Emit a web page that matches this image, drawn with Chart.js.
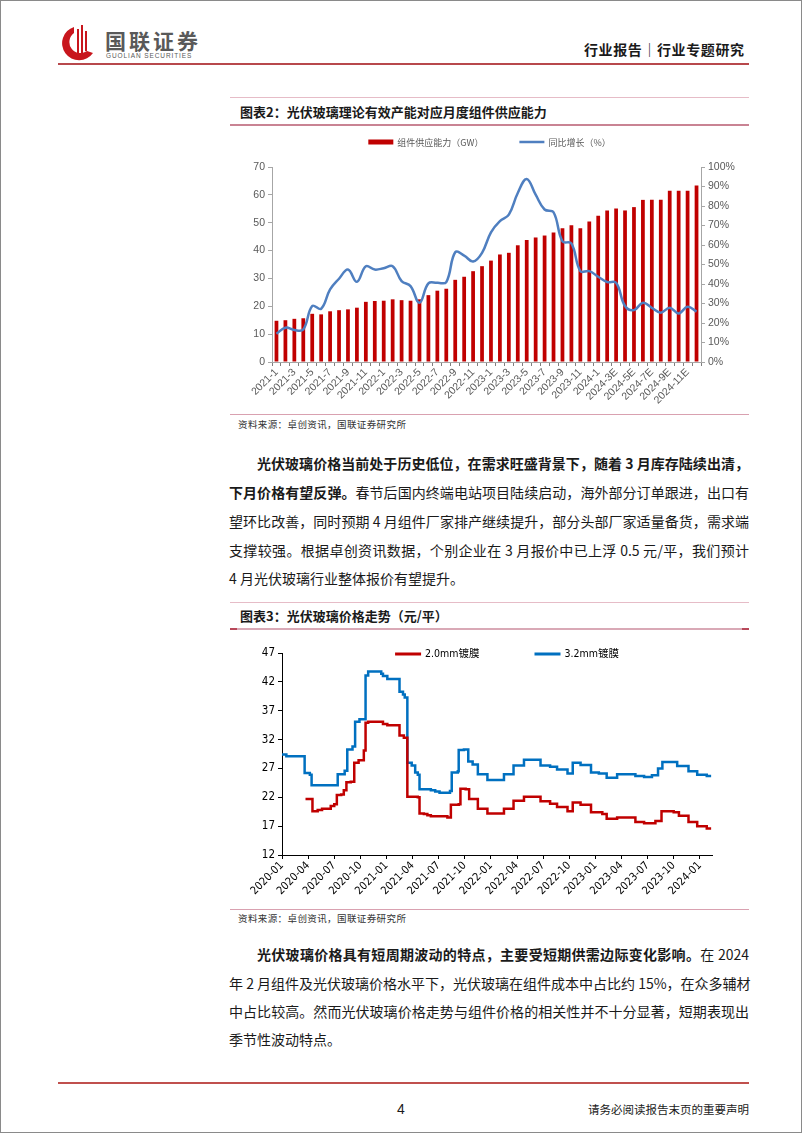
<!DOCTYPE html>
<html>
<head>
<meta charset="utf-8">
<script src="https://cdn.jsdelivr.net/npm/chart.js@4.4.1/dist/chart.umd.min.js"></script>
<style>
html,body{margin:0;padding:0;background:#fff;}
#page{position:relative;width:802px;height:1133px;box-sizing:border-box;border:1px solid #8a8a8a;overflow:hidden;font-family:"Noto Sans CJK SC",sans-serif;color:#1a1a1a;}
.abs{position:absolute;}
.rule{position:absolute;left:229px;width:519px;}
.title{position:absolute;left:239px;font-size:13px;font-weight:bold;line-height:16px;white-space:nowrap;}
.src{position:absolute;left:237px;font-size:9.5px;line-height:12px;color:#333;letter-spacing:0.4px;white-space:nowrap;}
.txt{position:absolute;left:228px;width:520px;font-size:14px;line-height:20px;height:20px;white-space:nowrap;text-align:justify;text-align-last:justify;}
.txt.first{left:256px;width:492px;}
.txt.last{text-align-last:left;}
.txt b{font-weight:bold;}
</style>
</head>
<body>
<div id="page">
  <!-- header -->
  <svg class="abs" style="left:56px;top:22px" width="40" height="40" viewBox="0 0 40 40">
    <path d="M17 4 A17 17 0 1 0 36 30 L30 28 A11 11 0 1 1 17 10 Z" fill="#c8161d"/>
    <rect x="20" y="6" width="2" height="26" fill="#c8161d"/>
    <rect x="24" y="2" width="2" height="28" fill="#c8161d"/>
    <rect x="28" y="8" width="2" height="20" fill="#c8161d"/>
  </svg>
  <div class="abs" style="left:104px;top:27px;font-size:21px;font-weight:bold;letter-spacing:3px;color:#595959;line-height:24px;">国联证券</div>
  <div class="abs" style="left:105px;top:51px;font-size:6.5px;letter-spacing:0.9px;color:#595959;line-height:8px;font-family:'Liberation Sans',sans-serif;">GUOLIAN SECURITIES</div>
  <div class="abs" style="left:583px;top:39px;font-size:14px;font-weight:bold;line-height:18px;letter-spacing:0.6px;white-space:nowrap;">行业报告｜行业专题研究</div>
  <div class="abs" style="left:57px;top:62px;width:691px;height:2px;background:#b8484c;"></div>

  <!-- figure 2 -->
  <div class="rule" style="top:96px;height:1px;background:#e6bcc7;"></div>
  <div class="title" style="top:103px;">图表2：光伏玻璃理论有效产能对应月度组件供应能力</div>
  <div class="rule" style="top:123px;height:2px;background:#c98393;"></div>
  <canvas id="supplyChart" class="abs" style="left:230px;top:128px" width="518" height="276"></canvas>
  <div class="rule" style="top:413px;height:1px;background:#d9a1b0;"></div>
  <div class="src" style="top:417px;">资料来源：卓创资讯，国联证券研究所</div>

  <!-- paragraph 1 -->
  <div class="txt first" style="top:452px;"><b>光伏玻璃价格当前处于历史低位，在需求旺盛背景下，随着 3 月库存陆续出清，</b></div>
  <div class="txt" style="top:481px;"><b>下月价格有望反弹。</b>春节后国内终端电站项目陆续启动，海外部分订单跟进，出口有</div>
  <div class="txt" style="top:510px;">望环比改善，同时预期 4 月组件厂家排产继续提升，部分头部厂家适量备货，需求端</div>
  <div class="txt" style="top:539px;">支撑较强。根据卓创资讯数据，个别企业在 3 月报价中已上浮 0.5 元/平，我们预计</div>
  <div class="txt last" style="top:567px;">4 月光伏玻璃行业整体报价有望提升。</div>

  <!-- figure 3 -->
  <div class="rule" style="top:601px;height:1px;background:#e6bcc7;"></div>
  <div class="title" style="top:607px;">图表3：光伏玻璃价格走势（元/平）</div>
  <div class="rule" style="top:627px;height:2px;background:#d9a9b6;"></div>
  <div class="abs" style="left:229px;top:627px;width:7px;height:2px;background:#b8485a;"></div>
  <div class="abs" style="left:741px;top:627px;width:7px;height:2px;background:#b8485a;"></div>
  <canvas id="priceChart" class="abs" style="left:232px;top:636px" width="516" height="270"></canvas>
  <div class="rule" style="top:908px;height:1px;background:#d9a1b0;"></div>
  <div class="src" style="top:911px;">资料来源：卓创资讯，国联证券研究所</div>

  <!-- paragraph 2 -->
  <div class="txt first" style="top:943px;"><b>光伏玻璃价格具有短周期波动的特点，主要受短期供需边际变化影响。</b>在 2024</div>
  <div class="txt" style="top:972px;">年 2 月组件及光伏玻璃价格水平下，光伏玻璃在组件成本中占比约 15%，在众多辅材</div>
  <div class="txt" style="top:1000px;">中占比较高。然而光伏玻璃价格走势与组件价格的相关性并不十分显著，短期表现出</div>
  <div class="txt last" style="top:1028px;">季节性波动特点。</div>

  <!-- footer -->
  <div class="abs" style="left:57px;top:1081px;width:691px;height:2px;background:#c0504d;"></div>
  <div class="abs" style="left:396px;top:1099px;font-size:14px;line-height:18px;font-family:'Liberation Sans',sans-serif;">4</div>
  <div class="abs" style="left:585px;top:1100px;width:163px;font-size:11.5px;line-height:16px;text-align:right;white-space:nowrap;">请务必阅读报告末页的重要声明</div>
</div>

<script>
// 图表2 data
const monthLabels = ['2021-1','2021-2','2021-3','2021-4','2021-5','2021-6','2021-7','2021-8','2021-9','2021-10','2021-11','2021-12',
  '2022-1','2022-2','2022-3','2022-4','2022-5','2022-6','2022-7','2022-8','2022-9','2022-10','2022-11','2022-12',
  '2023-1','2023-2','2023-3','2023-4','2023-5','2023-6','2023-7','2023-8','2023-9','2023-10','2023-11','2023-12',
  '2024-1','2024-2','2024-3E','2024-4E','2024-5E','2024-6E','2024-7E','2024-8E','2024-9E','2024-10E','2024-11E','2024-12E'];
const supplyGW = [14.8,15.0,15.5,15.7,17.3,17.1,18.2,18.6,18.9,19.5,21.6,21.9,
  22.0,22.5,22.2,22.0,22.5,24.0,25.6,26.3,29.5,30.6,32.6,34.4,
  36.4,38.6,39.2,41.9,43.8,44.7,45.4,46.5,48.0,49.1,48.0,50.4,
  52.5,54.4,55.1,54.4,55.6,58.2,58.2,58.2,61.5,61.5,61.5,63.4];
const yoyGrowth = [14.5,17.6,16.4,16.7,28.7,27.3,37.2,42.7,47.4,41.1,49.1,47.4,
  48.1,49.1,41.5,38.9,30.4,40.3,40.6,41.0,56.3,54.6,51.5,56.0,
  66.5,72.2,75.6,86.7,93.9,85.8,78.2,76.8,61.9,60.8,46.6,46.6,
  43.7,41.0,40.6,28.7,26.6,30.4,27.8,25.3,27.8,24.9,28.3,25.8];

// 图表3 data: x = months since 2020-01, price holds until next point
const priceTickLabels = ['2020-01','2020-04','2020-07','2020-10','2021-01','2021-04','2021-07','2021-10','2022-01',
  '2022-04','2022-07','2022-10','2023-01','2023-04','2023-07','2023-10','2024-01'];
const glass20Month = [2.7,3.5,4.1,4.6,5.6,6.0,6.3,6.8,7.1,7.4,7.9,8.3,8.8,9.4,9.6,9.9,11.6,12.1,13.5,14.0,14.4,15.6,15.8,16.3,16.7,17.1,19.0,19.4,20.3,20.5,21.1,21.5,22.5,23.6,25.5,26.6,27.8,29.7,30.8,31.6,32.8,33.4,34.3,35.5,36.8,37.3,38.5,40.6,41.6,42.9,43.6,45.0,45.6,46.7,47.7,48.8,49.3];
const glass20Price = [21.7,19.6,19.8,20.0,20.5,20.8,22.4,22.5,23.2,24.6,24.7,28.0,28.4,30.1,34.9,35.1,34.7,34.5,32.7,32.3,22.1,22.0,19.2,19.1,18.9,18.7,18.5,20.7,20.8,23.5,23.4,21.7,20.0,19.2,20.0,21.4,22.1,21.3,20.9,20.3,19.6,21.1,20.7,19.4,19.1,18.3,18.5,17.7,17.5,17.9,19.6,19.4,18.8,17.7,17.0,16.6,16.6];
const glass32Month = [0.0,0.5,2.6,3.2,3.4,6.4,7.2,7.5,8.1,8.4,8.9,9.6,9.9,11.4,11.6,12.1,13.5,13.9,14.1,14.4,14.9,15.3,15.6,15.8,17.1,17.6,18.1,19.3,19.5,20.2,20.3,20.9,21.4,21.9,22.5,23.6,25.5,26.6,27.8,29.7,30.8,31.6,32.8,33.4,34.3,35.5,36.4,37.3,38.5,40.6,41.6,42.5,43.2,43.7,45.4,46.7,47.7,48.8,49.3];
const glass32Price = [29.4,29.1,26.2,25.9,24.1,26.0,26.6,30.3,30.8,35.1,35.5,43.1,43.8,43.4,43.0,42.5,40.3,39.8,39.3,28.0,27.5,26.3,25.9,23.4,23.2,23.0,22.8,23.1,26.3,26.5,30.2,30.3,28.2,27.7,26.0,25.0,26.0,27.5,28.5,27.5,27.3,26.8,26.1,28.0,27.6,26.3,26.1,25.4,26.0,25.7,25.5,25.8,27.0,28.1,27.4,26.5,25.9,25.7,25.7];

Chart.defaults.font.family = '"Liberation Sans", "Noto Sans CJK SC", sans-serif';
Chart.defaults.animation = false;

// draws a legend row at a fixed offset from the chart area top
const rowLegend = {
  id: 'rowLegend',
  afterDraw(chart, args, opts) {
    const ctx = chart.ctx, area = chart.chartArea;
    ctx.save();
    ctx.font = opts.font;
    const sets = opts.order.map(i => chart.data.datasets[i]);
    const widths = sets.map(d => opts.boxW + 4 + ctx.measureText(d.label).width);
    const total = widths.reduce((a, b) => a + b, 0) + opts.gap * (sets.length - 1);
    let x = (area.left + area.right) / 2 - total / 2 + opts.shift;
    const y = area.top + opts.dy;
    sets.forEach((d, k) => {
      const h = d.type === 'bar' ? opts.barH : opts.lineH;
      ctx.fillStyle = d.type === 'bar' ? d.backgroundColor : d.borderColor;
      ctx.fillRect(x, y - h / 2, opts.boxW, h);
      ctx.fillStyle = opts.color;
      ctx.textBaseline = 'middle';
      ctx.fillText(d.label, x + opts.boxW + 4, y + 0.5);
      x += widths[k] + opts.gap;
    });
    ctx.restore();
  }
};

new Chart(document.getElementById('supplyChart'), {
  data: {
    labels: monthLabels,
    datasets: [
      { type: 'line', label: '同比增长（%）', data: yoyGrowth, yAxisID: 'y1',
        borderColor: '#4f7fc0', borderWidth: 2.5, pointRadius: 0, tension: 0.4 },
      { type: 'bar', label: '组件供应能力（GW）', data: supplyGW, yAxisID: 'y',
        backgroundColor: '#c00000', barPercentage: 0.42, categoryPercentage: 1 }
    ]
  },
  options: {
    responsive: false,
    layout: { padding: { top: 38 } },
    plugins: {
      legend: { display: false },
      tooltip: { enabled: false },
      rowLegend: { order: [1, 0], font: '9px "Noto Sans CJK SC"', color: '#595959',
        boxW: 25, barH: 5, lineH: 2.5, gap: 36, shift: 3, dy: -25 }
    },
    scales: {
      x: {
        grid: { drawOnChartArea: false, tickLength: 4, color: '#7f7f7f' },
        border: { color: '#a6a6a6' },
        ticks: { autoSkip: false, maxRotation: 45, minRotation: 45, color: '#595959', font: { size: 10.5 }, padding: 0,
          callback(v, i) { return i % 2 === 0 ? this.getLabelForValue(v) : ''; } },
        afterFit(s) { s.height = 43; }
      },
      y: {
        position: 'left', min: 0, max: 70,
        grid: { drawOnChartArea: false, tickLength: 4, color: '#a6a6a6' },
        border: { color: '#a6a6a6' },
        ticks: { stepSize: 10, color: '#595959', font: { size: 10.5 } },
        afterFit(s) { s.width = 41; }
      },
      y1: {
        position: 'right', min: 0, max: 100,
        grid: { drawOnChartArea: false, tickLength: 4, color: '#a6a6a6' },
        border: { color: '#a6a6a6' },
        ticks: { stepSize: 10, color: '#595959', font: { size: 10.5 }, callback: v => v + '%' },
        afterFit(s) { s.width = 48; }
      }
    }
  },
  plugins: [rowLegend]
});

new Chart(document.getElementById('priceChart'), {
  type: 'line',
  data: {
    datasets: [
      { label: '2.0mm镀膜', data: glass20Month.map((m, i) => ({ x: m, y: glass20Price[i] })),
        borderColor: '#c00000', borderWidth: 2.5, pointRadius: 0, stepped: 'before' },
      { label: '3.2mm镀膜', data: glass32Month.map((m, i) => ({ x: m, y: glass32Price[i] })),
        borderColor: '#0070c0', borderWidth: 2.5, pointRadius: 0, stepped: 'before' }
    ]
  },
  options: {
    responsive: false,
    layout: { padding: { top: 16, right: 37 } },
    plugins: {
      legend: { display: false },
      tooltip: { enabled: false },
      rowLegend: { order: [0, 1], font: '10.5px "DejaVu Sans Condensed", "Noto Sans CJK SC"', color: '#000',
        boxW: 26, barH: 3, lineH: 3, gap: 55, shift: 10, dy: 1 }
    },
    scales: {
      x: {
        type: 'linear', min: 0, max: 49.4,
        grid: { drawOnChartArea: false, tickLength: 4, color: '#000' },
        border: { color: '#000' },
        ticks: { stepSize: 3, includeBounds: false, maxRotation: 45, minRotation: 45, color: '#000', padding: 0,
          font: { size: 11, family: '"DejaVu Sans Condensed", "Liberation Sans", sans-serif' },
          callback: (v, i) => priceTickLabels[i] },
        afterFit(s) { s.height = 52; }
      },
      y: {
        min: 12, max: 47,
        grid: { drawOnChartArea: false, tickLength: 4, color: '#000' },
        border: { color: '#000' },
        ticks: { stepSize: 5, color: '#000', font: { size: 11.5, family: '"DejaVu Sans Condensed", "Liberation Sans", sans-serif' } },
        afterFit(s) { s.width = 49; }
      }
    }
  },
  plugins: [rowLegend]
});
</script>
</body>
</html>
